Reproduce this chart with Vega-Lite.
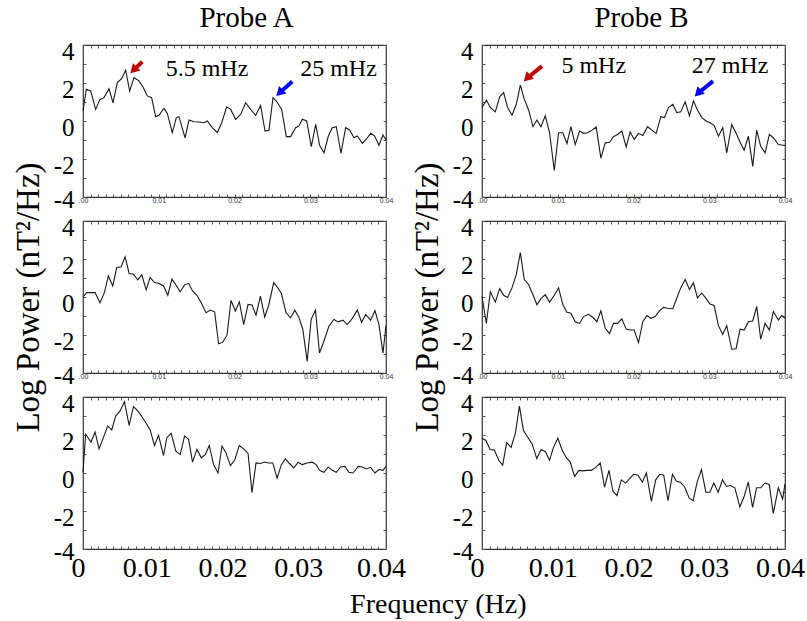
{
"$schema": "https://vega.github.io/schema/vega-lite/v6.json",
"background": "white",
"padding": {"left": 11, "top": 3, "right": 0, "bottom": 0},
"datasets": {
"A1": [{"f":0,"p":0.53},{"f":0.00044,"p":1.67},{"f":0.00101,"p":1.58},{"f":0.00167,"p":0.61},{"f":0.0022,"p":1.11},{"f":0.00277,"p":1.23},{"f":0.00343,"p":1.70},{"f":0.00396,"p":0.96},{"f":0.00453,"p":2.02},{"f":0.0051,"p":2.23},{"f":0.00563,"p":2.67},{"f":0.00616,"p":1.58},{"f":0.00673,"p":2.28},{"f":0.00739,"p":2.11},{"f":0.00792,"p":1.79},{"f":0.00849,"p":1.32},{"f":0.00906,"p":1.23},{"f":0.00959,"p":0.23},{"f":0.01003,"p":0.30},{"f":0.01069,"p":0.67},{"f":0.01113,"p":0.40},{"f":0.01179,"p":-0.61},{"f":0.01232,"p":0.18},{"f":0.01267,"p":0.23},{"f":0.01347,"p":-0.89},{"f":0.01399,"p":0.05},{"f":0.01465,"p":-0.04},{"f":0.01531,"p":-0.05},{"f":0.01597,"p":-0.09},{"f":0.01641,"p":0},{"f":0.01707,"p":-0.35},{"f":0.01773,"p":-0.61},{"f":0.01831,"p":-0.09},{"f":0.01897,"p":0.75},{"f":0.01949,"p":0.61},{"f":0.02015,"p":0.09},{"f":0.02081,"p":0.35},{"f":0.02147,"p":0.96},{"f":0.02213,"p":0.61},{"f":0.02279,"p":0.30},{"f":0.02345,"p":0.82},{"f":0.02403,"p":-0.53},{"f":0.02455,"p":-0.49},{"f":0.02508,"p":1.23},{"f":0.02552,"p":1.05},{"f":0.02623,"p":0.61},{"f":0.02684,"p":-0.82},{"f":0.02741,"p":-0.82},{"f":0.02807,"p":-0.35},{"f":0.02851,"p":-0.26},{"f":0.02896,"p":0.09},{"f":0.02953,"p":0},{"f":0.03014,"p":-1.35},{"f":0.03072,"p":-0.18},{"f":0.03124,"p":-1.28},{"f":0.03182,"p":-1.67},{"f":0.03239,"p":-0.79},{"f":0.03291,"p":-0.35},{"f":0.03344,"p":-0.30},{"f":0.03406,"p":-1.70},{"f":0.03467,"p":-0.35},{"f":0.0352,"p":-0.47},{"f":0.03577,"p":-0.88},{"f":0.03621,"p":-0.79},{"f":0.03688,"p":-1.18},{"f":0.0374,"p":-0.96},{"f":0.03798,"p":-0.65},{"f":0.0385,"p":-0.79},{"f":0.03907,"p":-1.28},{"f":0.0396,"p":-0.74},{"f":0.04,"p":-1.00}],
"A2": [{"f":0,"p":0},{"f":0.00049,"p":0.23},{"f":0.00159,"p":0.23},{"f":0.00225,"p":-0.30},{"f":0.00282,"p":0.23},{"f":0.00335,"p":1.11},{"f":0.00393,"p":0.58},{"f":0.00445,"p":1.55},{"f":0.00503,"p":1.59},{"f":0.00556,"p":2.12},{"f":0.00609,"p":1.24},{"f":0.00666,"p":1.20},{"f":0.00723,"p":0.90},{"f":0.00776,"p":1.17},{"f":0.00834,"p":0.37},{"f":0.00886,"p":1.02},{"f":0.00944,"p":0.76},{"f":0.00997,"p":0.72},{"f":0.01063,"p":0.58},{"f":0.0112,"p":0.09},{"f":0.01173,"p":0.94},{"f":0.01226,"p":0.64},{"f":0.01283,"p":0.28},{"f":0.01341,"p":0.64},{"f":0.01394,"p":0.72},{"f":0.01446,"p":0.32},{"f":0.01504,"p":0.09},{"f":0.01561,"p":-0.30},{"f":0.01623,"p":-0.83},{"f":0.0168,"p":-0.69},{"f":0.01738,"p":-0.78},{"f":0.0179,"p":-2.46},{"f":0.01843,"p":-2.39},{"f":0.01901,"p":-2.01},{"f":0.01954,"p":-0.18},{"f":0.02011,"p":-0.74},{"f":0.02064,"p":-0.25},{"f":0.02121,"p":-1.45},{"f":0.02179,"p":-0.39},{"f":0.02231,"p":-0.42},{"f":0.02284,"p":-0.95},{"f":0.02342,"p":0.05},{"f":0.02399,"p":-1.06},{"f":0.02452,"p":-0.42},{"f":0.02518,"p":0.76},{"f":0.02575,"p":0.46},{"f":0.02619,"p":0.18},{"f":0.02681,"p":-0.83},{"f":0.02739,"p":-1.10},{"f":0.02796,"p":-0.69},{"f":0.02849,"p":-1.06},{"f":0.02902,"p":-1.71},{"f":0.02959,"p":-3.39},{"f":0.03012,"p":-1.18},{"f":0.03069,"p":-0.69},{"f":0.03122,"p":-2.95},{"f":0.0318,"p":-2.33},{"f":0.03246,"p":-1.54},{"f":0.03312,"p":-1.18},{"f":0.03369,"p":-1.31},{"f":0.03431,"p":-1.22},{"f":0.03488,"p":-1.45},{"f":0.03546,"p":-1.18},{"f":0.03621,"p":-0.69},{"f":0.03678,"p":-1.33},{"f":0.03731,"p":-0.92},{"f":0.03797,"p":-1.22},{"f":0.03854,"p":-0.71},{"f":0.03907,"p":-1.45},{"f":0.0396,"p":-2.95},{"f":0.04,"p":-1.50}],
"A3": [{"f":0,"p":0.04},{"f":0.00035,"p":2.04},{"f":0.00106,"p":1.63},{"f":0.00159,"p":2.16},{"f":0.00212,"p":1.27},{"f":0.00269,"p":1.86},{"f":0.00326,"p":2.48},{"f":0.00379,"p":2.27},{"f":0.00432,"p":3.01},{"f":0.0049,"p":3.27},{"f":0.00547,"p":3.75},{"f":0.00609,"p":2.51},{"f":0.00666,"p":3.50},{"f":0.00723,"p":3.27},{"f":0.00785,"p":2.92},{"f":0.00842,"p":2.57},{"f":0.00886,"p":2.27},{"f":0.00944,"p":1.45},{"f":0.00997,"p":1.98},{"f":0.01063,"p":0.92},{"f":0.01107,"p":1.86},{"f":0.01164,"p":2.09},{"f":0.01226,"p":1.15},{"f":0.01283,"p":0.97},{"f":0.01341,"p":1.95},{"f":0.01394,"p":1.77},{"f":0.01446,"p":0.57},{"f":0.01504,"p":1.24},{"f":0.01561,"p":0.80},{"f":0.01614,"p":0.97},{"f":0.01667,"p":1.45},{"f":0.01724,"p":0.44},{"f":0.01782,"p":0},{"f":0.01835,"p":1.42},{"f":0.01888,"p":1.06},{"f":0.01945,"p":0.39},{"f":0.02002,"p":0.67},{"f":0.02064,"p":1.45},{"f":0.02121,"p":1.27},{"f":0.02179,"p":1.03},{"f":0.02231,"p":-1.03},{"f":0.02284,"p":0.53},{"f":0.02342,"p":0.50},{"f":0.02399,"p":0.58},{"f":0.02452,"p":0.53},{"f":0.02505,"p":0.53},{"f":0.02562,"p":-0.27},{"f":0.02619,"p":0.44},{"f":0.02672,"p":0.74},{"f":0.02725,"p":0.50},{"f":0.02783,"p":0.27},{"f":0.0284,"p":0.57},{"f":0.02893,"p":0.44},{"f":0.02959,"p":0.53},{"f":0.03025,"p":0.57},{"f":0.03078,"p":0.44},{"f":0.03122,"p":0.14},{"f":0.0318,"p":0.04},{"f":0.03237,"p":0.32},{"f":0.0329,"p":0.14},{"f":0.03343,"p":0.04},{"f":0.034,"p":0.32},{"f":0.03457,"p":0.35},{"f":0.0351,"p":0.04},{"f":0.03563,"p":0},{"f":0.03634,"p":0.35},{"f":0.03687,"p":0.32},{"f":0.0374,"p":0.21},{"f":0.03797,"p":0.30},{"f":0.03854,"p":0},{"f":0.03907,"p":0.18},{"f":0.0396,"p":0.14},{"f":0.04,"p":0.35}],
"B1": [{"f":0,"p":0.71},{"f":0.00057,"p":1.10},{"f":0.0011,"p":0.71},{"f":0.00176,"p":0.48},{"f":0.00233,"p":1.27},{"f":0.00286,"p":1.50},{"f":0.00338,"p":0.71},{"f":0.00396,"p":0.30},{"f":0.00453,"p":0.88},{"f":0.00506,"p":1.89},{"f":0.00558,"p":1.15},{"f":0.00615,"p":0.58},{"f":0.00673,"p":-0.30},{"f":0.00725,"p":0.05},{"f":0.00778,"p":-0.30},{"f":0.00835,"p":0.27},{"f":0.00892,"p":-0.62},{"f":0.00954,"p":-2.60},{"f":0.01011,"p":-0.62},{"f":0.01068,"p":-0.62},{"f":0.01121,"p":-1.19},{"f":0.01174,"p":-0.30},{"f":0.01231,"p":-1.24},{"f":0.01288,"p":-0.53},{"f":0.01341,"p":-0.65},{"f":0.01394,"p":-0.62},{"f":0.01451,"p":-0.48},{"f":0.01508,"p":-0.32},{"f":0.01569,"p":-1.95},{"f":0.01627,"p":-1.15},{"f":0.01684,"p":-1.12},{"f":0.01736,"p":-0.83},{"f":0.01789,"p":-0.71},{"f":0.01846,"p":-0.53},{"f":0.01903,"p":-1.36},{"f":0.01956,"p":-0.58},{"f":0.02009,"p":-0.97},{"f":0.02066,"p":-0.65},{"f":0.02123,"p":-0.76},{"f":0.02185,"p":-0.30},{"f":0.02242,"p":-0.48},{"f":0.02299,"p":-0.65},{"f":0.02361,"p":0.23},{"f":0.02409,"p":0.18},{"f":0.02462,"p":0.71},{"f":0.02519,"p":0.88},{"f":0.02572,"p":0.44},{"f":0.02624,"p":0.48},{"f":0.02682,"p":1.01},{"f":0.02739,"p":0.27},{"f":0.02791,"p":1.06},{"f":0.02844,"p":0.58},{"f":0.02901,"p":0.18},{"f":0.02959,"p":0},{"f":0.03011,"p":-0.09},{"f":0.03064,"p":-0.23},{"f":0.03121,"p":-0.80},{"f":0.03178,"p":-0.35},{"f":0.03231,"p":-1.68},{"f":0.03297,"p":-0.18},{"f":0.03354,"p":-0.65},{"f":0.03407,"p":-1.12},{"f":0.0346,"p":-1.54},{"f":0.03517,"p":-0.80},{"f":0.03574,"p":-2.39},{"f":0.03627,"p":-0.48},{"f":0.03679,"p":-1.33},{"f":0.03737,"p":-1.68},{"f":0.03794,"p":-0.71},{"f":0.03846,"p":-0.88},{"f":0.03912,"p":-1.24},{"f":0.04,"p":-1.29}],
"B2": [{"f":0,"p":0.04},{"f":0.00057,"p":-1.39},{"f":0.0011,"p":0.27},{"f":0.00176,"p":-0.27},{"f":0.00233,"p":0.44},{"f":0.00286,"p":0.09},{"f":0.00338,"p":-0.02},{"f":0.00396,"p":0.48},{"f":0.00453,"p":1.19},{"f":0.00506,"p":2.34},{"f":0.00558,"p":0.92},{"f":0.00615,"p":0.66},{"f":0.00673,"p":0.12},{"f":0.00725,"p":-0.41},{"f":0.00778,"p":-0.09},{"f":0.00835,"p":0.12},{"f":0.00892,"p":-0.27},{"f":0.00954,"p":0.09},{"f":0.01011,"p":0.48},{"f":0.01068,"p":-0.41},{"f":0.01121,"p":-0.80},{"f":0.01174,"p":-0.85},{"f":0.01231,"p":-1.30},{"f":0.01288,"p":-1.39},{"f":0.01341,"p":-1.03},{"f":0.01407,"p":-0.91},{"f":0.01464,"p":-1.08},{"f":0.01517,"p":-1.30},{"f":0.01569,"p":-0.73},{"f":0.01627,"p":-1.65},{"f":0.01684,"p":-1.92},{"f":0.01736,"p":-1.39},{"f":0.01789,"p":-1.39},{"f":0.01846,"p":-1.15},{"f":0.01903,"p":-1.69},{"f":0.01956,"p":-1.74},{"f":0.02009,"p":-1.74},{"f":0.02066,"p":-2.40},{"f":0.02123,"p":-1.30},{"f":0.02176,"p":-0.98},{"f":0.02229,"p":-1.12},{"f":0.02286,"p":-1.03},{"f":0.02343,"p":-0.73},{"f":0.02396,"p":-0.55},{"f":0.02449,"p":-0.59},{"f":0.02519,"p":-0.62},{"f":0.02572,"p":-0.05},{"f":0.02624,"p":0.48},{"f":0.02682,"p":0.92},{"f":0.02739,"p":0.39},{"f":0.02791,"p":0.75},{"f":0.02844,"p":-0.05},{"f":0.02901,"p":0.21},{"f":0.02959,"p":-0.09},{"f":0.03011,"p":-0.37},{"f":0.03064,"p":-0.44},{"f":0.03121,"p":-1.51},{"f":0.03178,"p":-1.97},{"f":0.03231,"p":-1.51},{"f":0.03297,"p":-2.75},{"f":0.03354,"p":-2.72},{"f":0.03407,"p":-1.69},{"f":0.0346,"p":-1.74},{"f":0.03517,"p":-1.30},{"f":0.03574,"p":-1.26},{"f":0.03627,"p":-0.50},{"f":0.03679,"p":-2.22},{"f":0.03737,"p":-1.39},{"f":0.03794,"p":-1.74},{"f":0.03846,"p":-0.76},{"f":0.03912,"p":-1.21},{"f":0.03956,"p":-0.98},{"f":0.04,"p":-1.12}],
"B3": [{"f":0,"p":1.83},{"f":0.00053,"p":1.71},{"f":0.00106,"p":1.24},{"f":0.00163,"p":1.21},{"f":0.00221,"p":0.67},{"f":0.00273,"p":0.41},{"f":0.00326,"p":1.60},{"f":0.00384,"p":1.35},{"f":0.00441,"p":2.10},{"f":0.00494,"p":3.52},{"f":0.00547,"p":2.24},{"f":0.00604,"p":1.88},{"f":0.00662,"p":1.53},{"f":0.00723,"p":0.76},{"f":0.00781,"p":1.24},{"f":0.00838,"p":1.12},{"f":0.00891,"p":0.67},{"f":0.00944,"p":1.35},{"f":0.01001,"p":1.83},{"f":0.01058,"p":1.21},{"f":0.01111,"p":0.82},{"f":0.01164,"p":0.59},{"f":0.01222,"p":-0.18},{"f":0.01279,"p":0.14},{"f":0.01332,"p":0.11},{"f":0.01385,"p":0.14},{"f":0.01442,"p":0.14},{"f":0.01499,"p":0.28},{"f":0.01561,"p":0.53},{"f":0.01618,"p":-0.75},{"f":0.01676,"p":0.14},{"f":0.01729,"p":-0.96},{"f":0.01782,"p":-1.19},{"f":0.01839,"p":-0.36},{"f":0.01896,"p":-0.53},{"f":0.01949,"p":-0.30},{"f":0.02002,"p":-0.07},{"f":0.02059,"p":-0.12},{"f":0.02117,"p":-0.48},{"f":0.0217,"p":0},{"f":0.02236,"p":-1.49},{"f":0.02293,"p":-0.36},{"f":0.02346,"p":-0.07},{"f":0.02399,"p":-0.12},{"f":0.02456,"p":-1.46},{"f":0.02514,"p":-0.07},{"f":0.02567,"p":-0.43},{"f":0.02619,"p":-0.48},{"f":0.02677,"p":-0.75},{"f":0.02734,"p":-1.31},{"f":0.02787,"p":-1.46},{"f":0.0284,"p":-0.48},{"f":0.02897,"p":0.18},{"f":0.02955,"p":-1.01},{"f":0.03008,"p":-1.01},{"f":0.0306,"p":-0.53},{"f":0.03118,"p":-1.01},{"f":0.03175,"p":-0.36},{"f":0.03228,"p":-0.71},{"f":0.03281,"p":-0.66},{"f":0.03338,"p":-0.78},{"f":0.03404,"p":-1.78},{"f":0.03457,"p":-1.28},{"f":0.03515,"p":-0.48},{"f":0.03572,"p":-1.81},{"f":0.03625,"p":-0.78},{"f":0.03678,"p":-0.78},{"f":0.03735,"p":-0.53},{"f":0.03792,"p":-0.60},{"f":0.03845,"p":-2.13},{"f":0.03912,"p":-0.78},{"f":0.03969,"p":-1.37},{"f":0.04,"p":-0.57}],
"A1lab": [{"f":0.01637,"p":2.75,"label":"5.5 mHz"},{"f":0.03373,"p":2.75,"label":"25 mHz"}],
"A1arr": [{"f":0.00783,"p":3.12,"f2":0.00667,"p2":2.68,"c":"#c00000"},{"f":0.02763,"p":2.08,"f2":0.02594,"p2":1.48,"c":"#0000ff"}],
"B1lab": [{"f":0.01475,"p":2.9,"label":"5 mHz"},{"f":0.03274,"p":2.9,"label":"27 mHz"}],
"B1arr": [{"f":0.00792,"p":2.89,"f2":0.00594,"p2":2.25,"c":"#c00000"},{"f":0.0305,"p":2.10,"f2":0.02851,"p2":1.46,"c":"#0000ff"}]
},
"title": {"text": "Frequency (Hz)", "orient": "bottom", "anchor": "middle", "font": "Liberation Serif", "fontSize": 28, "fontWeight": "normal", "color": "#000", "offset": 8, "dx": 30},
"hconcat": [
{
"spacing": 24, "bounds": "flush",
"vconcat": [
{"width": 303, "height": 152, "resolve": {"axis": {"x": "independent", "y": "independent"}},
"title": {"text": "Probe A", "font": "Liberation Serif", "fontSize": 29, "fontWeight": "normal", "color": "#000", "anchor": "middle", "frame": "group", "dx": 12, "offset": 6},
"layer": [
{"data": {"name": "A1"}, "mark": {"type": "line", "color": "#1a1a1a", "strokeWidth": 1.1},
"encoding": {
"x": {"field": "f", "type": "quantitative", "scale": {"domain": [0, 0.04], "nice": false, "zero": false},
"axis": {"values": [0,0.001,0.002,0.003,0.004,0.005,0.006,0.007,0.008,0.009,0.01,0.011,0.012,0.013,0.014,0.015,0.016,0.017,0.018,0.019,0.02,0.021,0.022,0.023,0.024,0.025,0.026,0.027,0.028,0.029,0.03,0.031,0.032,0.033,0.034,0.035,0.036,0.037,0.038,0.039,0.04], "labelExpr": "abs(datum.value*100-round(datum.value*100))<0.001 ? (datum.value==0 ? '.00' : format(datum.value,'.2f')) : ''", "labelFont": "Liberation Sans", "labelFontSize": 7, "labelColor": "#333", "labelPadding": 2, "labelFlush": false, "labelOverlap": false, "tickSize": -3, "title": null}},
"y": {"field": "p", "type": "quantitative", "scale": {"domain": [-4, 4], "nice": false},
"axis": {"values": [-4,-3,-2,-1,0,1,2,3,4], "labelExpr": "datum.value%2==0 ? (datum.value<0 ? '-'+abs(datum.value) : ''+datum.value) : ''", "labelFont": "Liberation Serif", "labelFontSize": 25, "labelColor": "#000", "labelPadding": 12, "labelOffset": {"condition": {"test": "datum.value == -4", "value": 2}, "value": 6}, "labelOverlap": false, "labelBound": false, "tickSize": -3, "title": null}}}},
{"data": {"name": "A1"}, "mark": {"type": "line", "opacity": 0},
"encoding": {
"x": {"field": "f", "type": "quantitative", "axis": {"orient": "top", "values": [0,0.001,0.002,0.003,0.004,0.005,0.006,0.007,0.008,0.009,0.01,0.011,0.012,0.013,0.014,0.015,0.016,0.017,0.018,0.019,0.02,0.021,0.022,0.023,0.024,0.025,0.026,0.027,0.028,0.029,0.03,0.031,0.032,0.033,0.034,0.035,0.036,0.037,0.038,0.039,0.04], "labels": false, "tickSize": -3, "title": null}},
"y": {"field": "p", "type": "quantitative", "axis": {"orient": "right", "values": [-4,-3,-2,-1,0,1,2,3,4], "labels": false, "tickSize": -3, "title": null}}}},
{"data": {"name": "A1arr"}, "mark": {"type": "rule", "strokeWidth": 4},
"encoding": {"x": {"field": "f", "type": "quantitative", "axis": null}, "y": {"field": "p", "type": "quantitative", "axis": null}, "x2": {"field": "f2"}, "y2": {"field": "p2"}, "color": {"field": "c", "type": "nominal", "scale": null}}},
{"data": {"name": "A1arr"}, "mark": {"type": "point", "shape": "triangle-up", "filled": true, "opacity": 1, "size": 110, "angle": 225},
"encoding": {"x": {"field": "f2", "type": "quantitative", "axis": null}, "y": {"field": "p2", "type": "quantitative", "axis": null}, "color": {"field": "c", "type": "nominal", "scale": null}}},
{"data": {"name": "A1lab"}, "mark": {"type": "text", "font": "Liberation Serif", "fontSize": 24, "color": "#000", "align": "center", "baseline": "middle"},
"encoding": {"x": {"field": "f", "type": "quantitative", "axis": null}, "y": {"field": "p", "type": "quantitative", "axis": null}, "text": {"field": "label"}}}
]},
{"width": 303, "height": 152, "resolve": {"axis": {"x": "independent", "y": "independent"}},
"layer": [
{"data": {"name": "A2"}, "mark": {"type": "line", "color": "#1a1a1a", "strokeWidth": 1.1},
"encoding": {
"x": {"field": "f", "type": "quantitative", "scale": {"domain": [0, 0.04], "nice": false, "zero": false},
"axis": {"values": [0,0.001,0.002,0.003,0.004,0.005,0.006,0.007,0.008,0.009,0.01,0.011,0.012,0.013,0.014,0.015,0.016,0.017,0.018,0.019,0.02,0.021,0.022,0.023,0.024,0.025,0.026,0.027,0.028,0.029,0.03,0.031,0.032,0.033,0.034,0.035,0.036,0.037,0.038,0.039,0.04], "labelExpr": "abs(datum.value*100-round(datum.value*100))<0.001 ? (datum.value==0 ? '.00' : format(datum.value,'.2f')) : ''", "labelFont": "Liberation Sans", "labelFontSize": 7, "labelColor": "#333", "labelPadding": 2, "labelFlush": false, "labelOverlap": false, "tickSize": -3, "title": null}},
"y": {"field": "p", "type": "quantitative", "scale": {"domain": [-4, 4], "nice": false},
"axis": {"values": [-4,-3,-2,-1,0,1,2,3,4], "labelExpr": "datum.value%2==0 ? (datum.value<0 ? '-'+abs(datum.value) : ''+datum.value) : ''", "labelFont": "Liberation Serif", "labelFontSize": 25, "labelColor": "#000", "labelPadding": 12, "labelOffset": {"condition": {"test": "datum.value == -4", "value": 2}, "value": 6}, "labelOverlap": false, "labelBound": false, "tickSize": -3, "title": "Log Power  (nT²/Hz)", "titleFont": "Liberation Serif", "titleFontSize": 33, "titleFontWeight": "normal", "titleColor": "#000", "titlePadding": 8}}}},
{"data": {"name": "A2"}, "mark": {"type": "line", "opacity": 0},
"encoding": {
"x": {"field": "f", "type": "quantitative", "axis": {"orient": "top", "values": [0,0.001,0.002,0.003,0.004,0.005,0.006,0.007,0.008,0.009,0.01,0.011,0.012,0.013,0.014,0.015,0.016,0.017,0.018,0.019,0.02,0.021,0.022,0.023,0.024,0.025,0.026,0.027,0.028,0.029,0.03,0.031,0.032,0.033,0.034,0.035,0.036,0.037,0.038,0.039,0.04], "labels": false, "tickSize": -3, "title": null}},
"y": {"field": "p", "type": "quantitative", "axis": {"orient": "right", "values": [-4,-3,-2,-1,0,1,2,3,4], "labels": false, "tickSize": -3, "title": null}}}}
]},
{"width": 303, "height": 152, "resolve": {"axis": {"x": "independent", "y": "independent"}},
"layer": [
{"data": {"name": "A3"}, "mark": {"type": "line", "color": "#1a1a1a", "strokeWidth": 1.1},
"encoding": {
"x": {"field": "f", "type": "quantitative", "scale": {"domain": [0, 0.04], "nice": false, "zero": false},
"axis": {"values": [0,0.001,0.002,0.003,0.004,0.005,0.006,0.007,0.008,0.009,0.01,0.011,0.012,0.013,0.014,0.015,0.016,0.017,0.018,0.019,0.02,0.021,0.022,0.023,0.024,0.025,0.026,0.027,0.028,0.029,0.03,0.031,0.032,0.033,0.034,0.035,0.036,0.037,0.038,0.039,0.04], "labelExpr": "abs(datum.value*100-round(datum.value*100))<0.001 ? (datum.value==0 ? '0' : format(datum.value,'.2f')) : ''", "labelFont": "Liberation Serif", "labelFontSize": 28, "labelColor": "#000", "labelPadding": 8, "labelOffset": {"condition": {"test": "datum.value > 0.005 && datum.value < 0.035", "value": -12}, "value": -5}, "labelFlush": false, "labelOverlap": false, "tickSize": -3, "title": null}},
"y": {"field": "p", "type": "quantitative", "scale": {"domain": [-4, 4], "nice": false},
"axis": {"values": [-4,-3,-2,-1,0,1,2,3,4], "labelExpr": "datum.value%2==0 ? (datum.value<0 ? '-'+abs(datum.value) : ''+datum.value) : ''", "labelFont": "Liberation Serif", "labelFontSize": 25, "labelColor": "#000", "labelPadding": 12, "labelOffset": {"condition": {"test": "datum.value == -4", "value": 2}, "value": 6}, "labelOverlap": false, "labelBound": false, "tickSize": -3, "title": null}}}},
{"data": {"name": "A3"}, "mark": {"type": "line", "opacity": 0},
"encoding": {
"x": {"field": "f", "type": "quantitative", "axis": {"orient": "top", "values": [0,0.001,0.002,0.003,0.004,0.005,0.006,0.007,0.008,0.009,0.01,0.011,0.012,0.013,0.014,0.015,0.016,0.017,0.018,0.019,0.02,0.021,0.022,0.023,0.024,0.025,0.026,0.027,0.028,0.029,0.03,0.031,0.032,0.033,0.034,0.035,0.036,0.037,0.038,0.039,0.04], "labels": false, "tickSize": -3, "title": null}},
"y": {"field": "p", "type": "quantitative", "axis": {"orient": "right", "values": [-4,-3,-2,-1,0,1,2,3,4], "labels": false, "tickSize": -3, "title": null}}}}
]}
]},
{
"spacing": 24, "bounds": "flush",
"vconcat": [
{"width": 303, "height": 152, "resolve": {"axis": {"x": "independent", "y": "independent"}},
"title": {"text": "Probe B", "font": "Liberation Serif", "fontSize": 29, "fontWeight": "normal", "color": "#000", "anchor": "middle", "frame": "group", "dx": 8, "offset": 6},
"layer": [
{"data": {"name": "B1"}, "mark": {"type": "line", "color": "#1a1a1a", "strokeWidth": 1.1},
"encoding": {
"x": {"field": "f", "type": "quantitative", "scale": {"domain": [0, 0.04], "nice": false, "zero": false},
"axis": {"values": [0,0.001,0.002,0.003,0.004,0.005,0.006,0.007,0.008,0.009,0.01,0.011,0.012,0.013,0.014,0.015,0.016,0.017,0.018,0.019,0.02,0.021,0.022,0.023,0.024,0.025,0.026,0.027,0.028,0.029,0.03,0.031,0.032,0.033,0.034,0.035,0.036,0.037,0.038,0.039,0.04], "labelExpr": "abs(datum.value*100-round(datum.value*100))<0.001 ? (datum.value==0 ? '.00' : format(datum.value,'.2f')) : ''", "labelFont": "Liberation Sans", "labelFontSize": 7, "labelColor": "#333", "labelPadding": 2, "labelFlush": false, "labelOverlap": false, "tickSize": -3, "title": null}},
"y": {"field": "p", "type": "quantitative", "scale": {"domain": [-4, 4], "nice": false},
"axis": {"values": [-4,-3,-2,-1,0,1,2,3,4], "labelExpr": "datum.value%2==0 ? (datum.value<0 ? '-'+abs(datum.value) : ''+datum.value) : ''", "labelFont": "Liberation Serif", "labelFontSize": 25, "labelColor": "#000", "labelPadding": 12, "labelOffset": {"condition": {"test": "datum.value == -4", "value": 2}, "value": 6}, "labelOverlap": false, "labelBound": false, "tickSize": -3, "title": null}}}},
{"data": {"name": "B1"}, "mark": {"type": "line", "opacity": 0},
"encoding": {
"x": {"field": "f", "type": "quantitative", "axis": {"orient": "top", "values": [0,0.001,0.002,0.003,0.004,0.005,0.006,0.007,0.008,0.009,0.01,0.011,0.012,0.013,0.014,0.015,0.016,0.017,0.018,0.019,0.02,0.021,0.022,0.023,0.024,0.025,0.026,0.027,0.028,0.029,0.03,0.031,0.032,0.033,0.034,0.035,0.036,0.037,0.038,0.039,0.04], "labels": false, "tickSize": -3, "title": null}},
"y": {"field": "p", "type": "quantitative", "axis": {"orient": "right", "values": [-4,-3,-2,-1,0,1,2,3,4], "labels": false, "tickSize": -3, "title": null}}}},
{"data": {"name": "B1arr"}, "mark": {"type": "rule", "strokeWidth": 4},
"encoding": {"x": {"field": "f", "type": "quantitative", "axis": null}, "y": {"field": "p", "type": "quantitative", "axis": null}, "x2": {"field": "f2"}, "y2": {"field": "p2"}, "color": {"field": "c", "type": "nominal", "scale": null}}},
{"data": {"name": "B1arr"}, "mark": {"type": "point", "shape": "triangle-up", "filled": true, "opacity": 1, "size": 110, "angle": 225},
"encoding": {"x": {"field": "f2", "type": "quantitative", "axis": null}, "y": {"field": "p2", "type": "quantitative", "axis": null}, "color": {"field": "c", "type": "nominal", "scale": null}}},
{"data": {"name": "B1lab"}, "mark": {"type": "text", "font": "Liberation Serif", "fontSize": 24, "color": "#000", "align": "center", "baseline": "middle"},
"encoding": {"x": {"field": "f", "type": "quantitative", "axis": null}, "y": {"field": "p", "type": "quantitative", "axis": null}, "text": {"field": "label"}}}
]},
{"width": 303, "height": 152, "resolve": {"axis": {"x": "independent", "y": "independent"}},
"layer": [
{"data": {"name": "B2"}, "mark": {"type": "line", "color": "#1a1a1a", "strokeWidth": 1.1},
"encoding": {
"x": {"field": "f", "type": "quantitative", "scale": {"domain": [0, 0.04], "nice": false, "zero": false},
"axis": {"values": [0,0.001,0.002,0.003,0.004,0.005,0.006,0.007,0.008,0.009,0.01,0.011,0.012,0.013,0.014,0.015,0.016,0.017,0.018,0.019,0.02,0.021,0.022,0.023,0.024,0.025,0.026,0.027,0.028,0.029,0.03,0.031,0.032,0.033,0.034,0.035,0.036,0.037,0.038,0.039,0.04], "labelExpr": "abs(datum.value*100-round(datum.value*100))<0.001 ? (datum.value==0 ? '.00' : format(datum.value,'.2f')) : ''", "labelFont": "Liberation Sans", "labelFontSize": 7, "labelColor": "#333", "labelPadding": 2, "labelFlush": false, "labelOverlap": false, "tickSize": -3, "title": null}},
"y": {"field": "p", "type": "quantitative", "scale": {"domain": [-4, 4], "nice": false},
"axis": {"values": [-4,-3,-2,-1,0,1,2,3,4], "labelExpr": "datum.value%2==0 ? (datum.value<0 ? '-'+abs(datum.value) : ''+datum.value) : ''", "labelFont": "Liberation Serif", "labelFontSize": 25, "labelColor": "#000", "labelPadding": 12, "labelOffset": {"condition": {"test": "datum.value == -4", "value": 2}, "value": 6}, "labelOverlap": false, "labelBound": false, "tickSize": -3, "title": "Log Power  (nT²/Hz)", "titleFont": "Liberation Serif", "titleFontSize": 33, "titleFontWeight": "normal", "titleColor": "#000", "titlePadding": 8}}}},
{"data": {"name": "B2"}, "mark": {"type": "line", "opacity": 0},
"encoding": {
"x": {"field": "f", "type": "quantitative", "axis": {"orient": "top", "values": [0,0.001,0.002,0.003,0.004,0.005,0.006,0.007,0.008,0.009,0.01,0.011,0.012,0.013,0.014,0.015,0.016,0.017,0.018,0.019,0.02,0.021,0.022,0.023,0.024,0.025,0.026,0.027,0.028,0.029,0.03,0.031,0.032,0.033,0.034,0.035,0.036,0.037,0.038,0.039,0.04], "labels": false, "tickSize": -3, "title": null}},
"y": {"field": "p", "type": "quantitative", "axis": {"orient": "right", "values": [-4,-3,-2,-1,0,1,2,3,4], "labels": false, "tickSize": -3, "title": null}}}}
]},
{"width": 303, "height": 152, "resolve": {"axis": {"x": "independent", "y": "independent"}},
"layer": [
{"data": {"name": "B3"}, "mark": {"type": "line", "color": "#1a1a1a", "strokeWidth": 1.1},
"encoding": {
"x": {"field": "f", "type": "quantitative", "scale": {"domain": [0, 0.04], "nice": false, "zero": false},
"axis": {"values": [0,0.001,0.002,0.003,0.004,0.005,0.006,0.007,0.008,0.009,0.01,0.011,0.012,0.013,0.014,0.015,0.016,0.017,0.018,0.019,0.02,0.021,0.022,0.023,0.024,0.025,0.026,0.027,0.028,0.029,0.03,0.031,0.032,0.033,0.034,0.035,0.036,0.037,0.038,0.039,0.04], "labelExpr": "abs(datum.value*100-round(datum.value*100))<0.001 ? (datum.value==0 ? '0' : format(datum.value,'.2f')) : ''", "labelFont": "Liberation Serif", "labelFontSize": 28, "labelColor": "#000", "labelPadding": 8, "labelOffset": -5, "labelFlush": false, "labelOverlap": false, "tickSize": -3, "title": null}},
"y": {"field": "p", "type": "quantitative", "scale": {"domain": [-4, 4], "nice": false},
"axis": {"values": [-4,-3,-2,-1,0,1,2,3,4], "labelExpr": "datum.value%2==0 ? (datum.value<0 ? '-'+abs(datum.value) : ''+datum.value) : ''", "labelFont": "Liberation Serif", "labelFontSize": 25, "labelColor": "#000", "labelPadding": 12, "labelOffset": {"condition": {"test": "datum.value == -4", "value": 2}, "value": 6}, "labelOverlap": false, "labelBound": false, "tickSize": -3, "title": null}}}},
{"data": {"name": "B3"}, "mark": {"type": "line", "opacity": 0},
"encoding": {
"x": {"field": "f", "type": "quantitative", "axis": {"orient": "top", "values": [0,0.001,0.002,0.003,0.004,0.005,0.006,0.007,0.008,0.009,0.01,0.011,0.012,0.013,0.014,0.015,0.016,0.017,0.018,0.019,0.02,0.021,0.022,0.023,0.024,0.025,0.026,0.027,0.028,0.029,0.03,0.031,0.032,0.033,0.034,0.035,0.036,0.037,0.038,0.039,0.04], "labels": false, "tickSize": -3, "title": null}},
"y": {"field": "p", "type": "quantitative", "axis": {"orient": "right", "values": [-4,-3,-2,-1,0,1,2,3,4], "labels": false, "tickSize": -3, "title": null}}}}
]}
]}
],
"spacing": 3,
"config": {
"view": {"stroke": "#333", "strokeWidth": 1.2},
"axis": {"grid": false, "domain": false, "tickColor": "#555", "tickWidth": 1}
}
}
